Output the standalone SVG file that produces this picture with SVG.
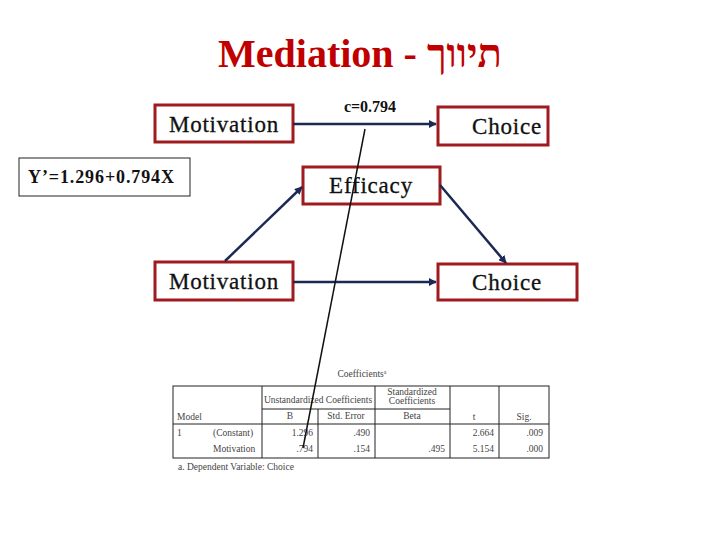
<svg xmlns="http://www.w3.org/2000/svg" width="720" height="540" viewBox="0 0 720 540">
<style>
.box{fill:#fff;stroke:#a01b1e;stroke-width:3}
.lbl{font-family:"Liberation Serif",serif;font-size:23px;letter-spacing:0.8px;fill:#111;text-anchor:middle;stroke:#111;stroke-width:0.3}
.con{stroke:#1b2a55;stroke-width:2.5;fill:none;marker-end:url(#ah)}
.tb{font-family:"Liberation Serif",serif;font-size:9.5px;fill:#444}
.tl{stroke:#222;stroke-width:1;fill:none}
</style>
<defs>
<marker id="ah" viewBox="0 0 10 10" refX="9" refY="5" markerWidth="3.2" markerHeight="3.2" orient="auto" markerUnits="strokeWidth">
<path d="M0,0 L10,5 L0,10 z" fill="#1b2a55"/>
</marker>
</defs>
<rect width="720" height="540" fill="#fff"/>
<text x="360" y="67" font-family="'Liberation Serif',serif" font-weight="bold" font-size="40" fill="#c00000" text-anchor="middle">Mediation - תיווך</text>

<g id="motivation-top"><rect class="box" x="155" y="105" width="138" height="37"/><text class="lbl" x="224" y="132">Motivation</text></g>
<g id="choice-top"><rect class="box" x="438" y="107" width="110" height="38"/><text class="lbl" x="507" y="134">Choice</text></g>
<g id="equation"><rect x="19" y="158" width="171" height="38" fill="#fff" stroke="#222" stroke-width="1"/><text x="28" y="183" font-family="'Liberation Serif',serif" font-weight="bold" font-size="18" fill="#111" textLength="146" lengthAdjust="spacing">Y’=1.296+0.794X</text></g>
<g id="efficacy"><rect class="box" x="303" y="167" width="137" height="37"/><text class="lbl" x="371" y="193">Efficacy</text></g>
<g id="motivation-bottom"><rect class="box" x="155" y="262" width="138" height="38"/><text class="lbl" x="224" y="289">Motivation</text></g>
<g id="choice-bottom"><rect class="box" x="438" y="264" width="139" height="36"/><text class="lbl" x="507" y="290">Choice</text></g>

<g id="connectors">
<line class="con" x1="293" y1="124" x2="436" y2="124"/>
<text x="370" y="112" font-family="'Liberation Serif',serif" font-weight="bold" font-size="16" fill="#111" text-anchor="middle">c=0.794</text>
<line class="con" x1="225" y1="261" x2="302" y2="187"/>
<line class="con" x1="440" y1="185" x2="506" y2="263"/>
<line class="con" x1="293" y1="282" x2="436" y2="282"/>
</g>

<g id="table">
<text class="tb" x="362" y="377" text-anchor="middle">Coefficients<tspan font-size="6" dy="-3">a</tspan></text>
<rect class="tl" x="173" y="386" width="376" height="72" stroke-width="1.5"/>
<line class="tl" x1="262" y1="386" x2="262" y2="458"/>
<line class="tl" x1="375" y1="386" x2="375" y2="458"/>
<line class="tl" x1="450" y1="386" x2="450" y2="458"/>
<line class="tl" x1="499" y1="386" x2="499" y2="458"/>
<line class="tl" x1="318" y1="409" x2="318" y2="458"/>
<line class="tl" x1="262" y1="409" x2="450" y2="409"/>
<line class="tl" x1="173" y1="424" x2="549" y2="424"/>
<text class="tb" x="318" y="403" text-anchor="middle">Unstandardized Coefficients</text>
<text class="tb" x="412" y="395" text-anchor="middle">Standardized</text>
<text class="tb" x="412" y="404" text-anchor="middle">Coefficients</text>
<text class="tb" x="177" y="420">Model</text>
<text class="tb" x="290" y="419" text-anchor="middle">B</text>
<text class="tb" x="346" y="419" text-anchor="middle">Std. Error</text>
<text class="tb" x="412" y="419" text-anchor="middle">Beta</text>
<text class="tb" x="474" y="420" text-anchor="middle">t</text>
<text class="tb" x="524" y="420" text-anchor="middle">Sig.</text>
<text class="tb" x="177" y="436">1</text>
<text class="tb" x="213" y="436">(Constant)</text>
<text class="tb" x="213" y="452">Motivation</text>
<text class="tb" x="313" y="436" text-anchor="end">1.296</text>
<text class="tb" x="313" y="452" text-anchor="end">.794</text>
<text class="tb" x="370" y="436" text-anchor="end">.490</text>
<text class="tb" x="370" y="452" text-anchor="end">.154</text>
<text class="tb" x="445" y="452" text-anchor="end">.495</text>
<text class="tb" x="494" y="436" text-anchor="end">2.664</text>
<text class="tb" x="494" y="452" text-anchor="end">5.154</text>
<text class="tb" x="543" y="436" text-anchor="end">.009</text>
<text class="tb" x="543" y="452" text-anchor="end">.000</text>
<text class="tb" x="178" y="470">a. Dependent Variable: Choice</text>
</g>

<line x1="365" y1="129" x2="303" y2="448" stroke="#111" stroke-width="1.5"/>
</svg>
